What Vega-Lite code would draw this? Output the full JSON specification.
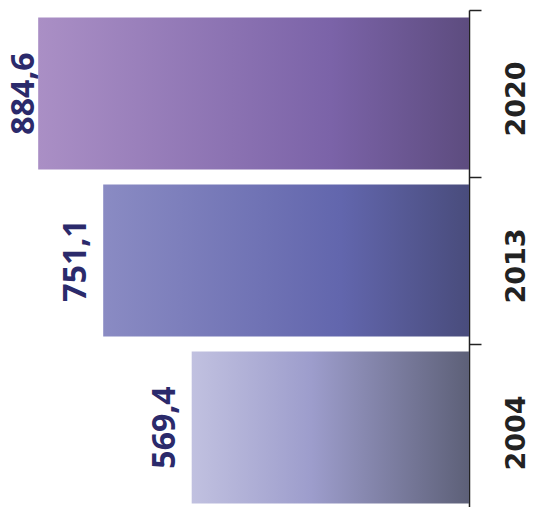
{
  "$schema": "https://vega.github.io/schema/vega-lite/v6.json",
  "width": 469,
  "height": 501,
  "autosize": {"type": "none"},
  "padding": {"left": 0, "top": 10, "right": 71, "bottom": 0},
  "background": "white",
  "config": {"view": {"stroke": null}},
  "data": {
    "values": [
      {"year": "2020", "value": 884.6, "label": "884,6"},
      {"year": "2013", "value": 751.1, "label": "751,1"},
      {"year": "2004", "value": 569.4, "label": "569,4"}
    ]
  },
  "encoding": {
    "y": {
      "field": "year",
      "type": "ordinal",
      "sort": ["2020", "2013", "2004"],
      "scale": {"paddingInner": 0, "paddingOuter": 0},
      "axis": {
        "orient": "right",
        "title": null,
        "domain": true,
        "domainColor": "#222222",
        "domainWidth": 1.5,
        "ticks": true,
        "tickBand": "extent",
        "tickSize": 12,
        "tickColor": "#222222",
        "tickWidth": 1.5,
        "labelAngle": 270,
        "labelAlign": "center",
        "labelBaseline": "top",
        "labelPadding": 22,
        "labelOffset": 5,
        "labelFont": "DejaVu Sans",
        "labelFontWeight": "bold",
        "labelFontSize": 27,
        "labelColor": "#222222"
      }
    },
    "x": {
      "field": "value",
      "type": "quantitative",
      "scale": {"domain": [0, 963], "reverse": true},
      "axis": null
    }
  },
  "layer": [
    {
      "transform": [{"filter": "datum.year === '2020'"}],
      "mark": {
        "type": "bar",
        "height": {"band": 0.91},
        "color": {
          "gradient": "linear", "x1": 0, "x2": 1, "y1": 0, "y2": 0,
          "stops": [
            {"offset": 0, "color": "#aa8fc5"},
            {"offset": 0.68, "color": "#7b63a8"},
            {"offset": 1, "color": "#5d4c7f"}
          ]
        }
      }
    },
    {
      "transform": [{"filter": "datum.year === '2013'"}],
      "mark": {
        "type": "bar",
        "height": {"band": 0.91},
        "color": {
          "gradient": "linear", "x1": 0, "x2": 1, "y1": 0, "y2": 0,
          "stops": [
            {"offset": 0, "color": "#8a8bc3"},
            {"offset": 0.65, "color": "#6266ad"},
            {"offset": 1, "color": "#494c7c"}
          ]
        }
      }
    },
    {
      "transform": [{"filter": "datum.year === '2004'"}],
      "mark": {
        "type": "bar",
        "height": {"band": 0.91},
        "color": {
          "gradient": "linear", "x1": 0, "x2": 1, "y1": 0, "y2": 0,
          "stops": [
            {"offset": 0, "color": "#c1c1e0"},
            {"offset": 0.43, "color": "#9d9dcc"},
            {"offset": 1, "color": "#5d6078"}
          ]
        }
      }
    },
    {
      "transform": [{"filter": "datum.year !== '2020'"}],
      "mark": {
        "type": "text",
        "angle": 270,
        "align": "center",
        "baseline": "alphabetic",
        "dy": -17,
        "font": "Noto Sans",
        "fontWeight": "bold",
        "fontSize": 32,
        "color": "#2b2a6b"
      },
      "encoding": {"text": {"field": "label"}}
    },
    {
      "transform": [{"filter": "datum.year === '2020'"}],
      "mark": {
        "type": "text",
        "angle": 270,
        "align": "center",
        "baseline": "alphabetic",
        "dy": -4,
        "font": "Noto Sans",
        "fontWeight": "bold",
        "fontSize": 32,
        "color": "#2b2a6b"
      },
      "encoding": {"text": {"field": "label"}}
    }
  ]
}
